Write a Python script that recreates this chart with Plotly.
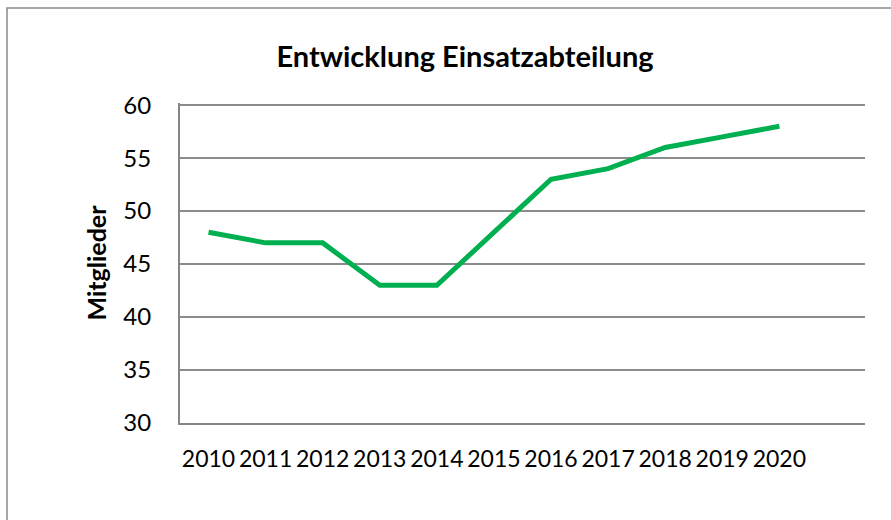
import plotly.graph_objects as go

years = ["2010", "2011", "2012", "2013", "2014", "2015", "2016", "2017", "2018", "2019", "2020"]
members = [48, 47, 47, 43, 43, 48, 53, 54, 56, 57, 58]
y_ticks = [30, 35, 40, 45, 50, 55, 60]

W, H = 891, 520
L, R, T, B = 180, 26, 103, 97
pw, ph = W - L - R, H - T - B

FONT = "Lato"

fig = go.Figure()
fig.add_trace(go.Scatter(
    x=years, y=members, mode="lines",
    line=dict(color="#00B050", width=5),
    hoverinfo="x+y",
))

fig.update_layout(
    width=W, height=H,
    margin=dict(l=L, r=R, t=T, b=B, autoexpand=False),
    paper_bgcolor="white", plot_bgcolor="white",
    showlegend=False,
    font=dict(family=FONT, color="black", size=24),
    title=dict(
        text="<b>Entwicklung Einsatzabteilung</b>",
        x=(465 - L) / pw, xref="paper", xanchor="center",
        y=1 - 57 / H, yref="container", yanchor="middle",
        font=dict(family=FONT, size=29, color="black"),
    ),
    xaxis=dict(
        type="category", range=[-0.5, 11.5],
        showgrid=False, showline=True, linecolor="#868686", linewidth=2,
        ticks="", ticklabelstandoff=14, tickangle=0,
        tickfont=dict(family=FONT, size=23),
        fixedrange=True,
    ),
    yaxis=dict(
        range=[30, 60.2], tickvals=y_ticks,
        showgrid=True, gridcolor="#8c8c8c", gridwidth=1.5,
        showline=True, linecolor="#868686", linewidth=2,
        zeroline=False, ticks="", ticklabelstandoff=22,
        tickfont=dict(family=FONT, size=24),
        title=dict(text="<b>Mitglieder</b>", font=dict(family=FONT, size=25), standoff=10),
        fixedrange=True,
    ),
    shapes=[dict(
        type="rect", xref="paper", yref="paper",
        x0=(7 - L) / pw, x1=(W + 20 - L) / pw,
        y0=-(H + 20 - T - ph) / ph, y1=1 + (T - 8) / ph,
        line=dict(color="#8a8a8a", width=1.5), fillcolor="rgba(0,0,0,0)",
        layer="below",
    )],
)

fig.write_html(
    "out.html",
    config={"displayModeBar": False},
    post_script="document.body.style.margin='0';document.body.style.overflow='hidden';",
)
